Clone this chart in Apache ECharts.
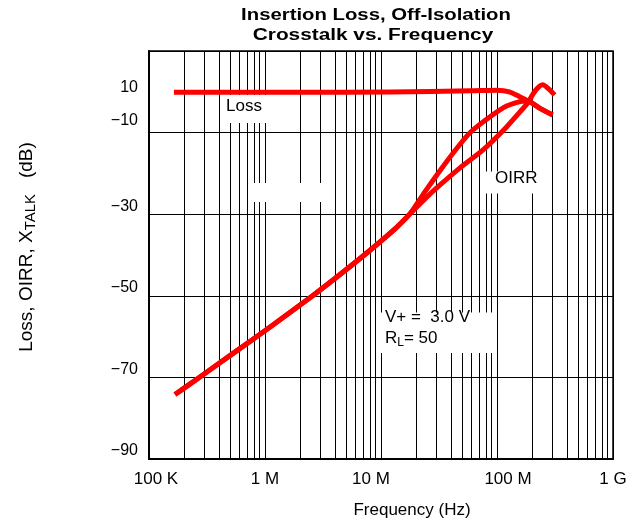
<!DOCTYPE html>
<html><head><meta charset="utf-8">
<script src="https://cdn.jsdelivr.net/npm/echarts@6/dist/echarts.min.js"></script>
<style>html,body{margin:0;padding:0;background:#fff}#c{width:643px;height:527px}</style>
</head><body><div id="c"></div>
<script>
// ---- data ----
const lossFreq = [1.64e5, 2e6, 1.2e7, 6e7, 1e8, 1.28e8, 1.57e8, 1.91e8, 2.33e8, 3.0e8];
const lossDb   = [-0.1, -0.1, -0.05, 0.25, 0.4, 0.0, -1.2, -2.4, -4.0, -5.6];
const xtalkFreq = [1.675e5, 2.75e5, 5.5e5, 1.1e6, 2.44e6, 4.43e6, 8.0e6, 1.32e7, 1.78e7, 2.38e7, 3.21e7, 4.32e7, 5.82e7, 8.65e7, 1.21e8, 1.66e8, 1.91e8, 2.33e8, 3.02e8];
const xtalkDb   = [-74.2, -69.9, -63.8, -57.7, -50.5, -44.8, -38.9, -33.6, -29.9, -24.6, -19.4, -14.5, -10.1, -6.2, -3.5, -2.3, -2.4, -4.0, -5.7];
const oirrFreq = [1.675e5, 2.75e5, 5.5e5, 1.1e6, 2.44e6, 4.43e6, 8.0e6, 1.32e7, 1.78e7, 2.38e7, 3.21e7, 4.77e7, 7.54e7, 1.21e8, 1.57e8, 1.84e8, 2.07e8, 2.29e8, 2.48e8, 2.79e8, 3.14e8];
const oirrDb   = [-74.2, -69.9, -63.8, -57.7, -50.5, -44.8, -38.9, -33.6, -29.9, -26.3, -22.9, -18.7, -14.3, -8.6, -5.0, -2.75, -0.3, 1.2, 1.7, 0.7, -0.8];

// tick labels
const xTickValues = [1e5, 1e6, 1e7, 1e8, 1e9];
const xTickLabels = ['100 K', '1 M', '10 M', '100 M', '1 G'];
const yLabelValues = [0, -10, -30, -50, -70, -90];
const yLabelTexts  = ['10', '\u221210', '\u221230', '\u221250', '\u221270', '\u221290'];
// minor log grid
const decades = [1e5, 1e6, 1e7, 1e8];
const minorMultipliers = [2, 3, 4, 5, 6, 7, 8, 9];

const FONT = '"Liberation Sans", Arial, Helvetica, sans-serif';
const RED = '#ff0000';

function zip(a, b) { return a.map((v, i) => [v, b[i]]); }

const minorLines = [];
decades.forEach(d => minorMultipliers.forEach(m => minorLines.push({ xAxis: d * m })));

const chart = echarts.init(document.getElementById('c'), null, { renderer: 'canvas' });

function curve(name, f, v) {
  return {
    name, type: 'line', data: zip(f, v), smooth: 0.2, symbol: 'none', z: 5,
    lineStyle: { color: RED, width: 5, cap: 'butt', join: 'round' }, animation: false
  };
}

const xLabelStyles = ['p0', 'p1', 'p2', 'p3', 'p4'];
const xRich = {
  p0: { fontFamily: FONT, fontSize: 17, color: '#000', padding: [0, 0, 0, 14] },
  p1: { fontFamily: FONT, fontSize: 17, color: '#000' },
  p2: { fontFamily: FONT, fontSize: 17, color: '#000', padding: [0, 20, 0, 0] },
  p3: { fontFamily: FONT, fontSize: 17, color: '#000', padding: [0, 0, 0, 22] },
  p4: { fontFamily: FONT, fontSize: 17, color: '#000' }
};

chart.setOption({
  backgroundColor: '#fff',
  animation: false,
  grid: { left: 149, right: 30, top: 51, bottom: 68, show: true, borderColor: '#000', borderWidth: 1.5, backgroundColor: 'transparent' },
  xAxis: {
    type: 'log', logBase: 10, min: 1e5, max: 1e9,
    name: 'Frequency (Hz)', nameLocation: 'middle', nameGap: 43,
    nameTextStyle: { fontFamily: FONT, fontSize: 17, color: '#000', padding: [0, 0, 0, 62] },
    axisLine: { show: true, onZero: false, lineStyle: { color: '#000', width: 2 } },
    axisTick: { show: false },
    splitLine: { show: true, lineStyle: { color: '#000', width: 1 } },
    axisLabel: {
      fontFamily: FONT, fontSize: 17, color: '#000', margin: 12,
      formatter: v => { const i = xTickValues.findIndex(t => Math.abs(Math.log10(t) - Math.log10(v)) < 1e-6); return i >= 0 ? '{' + xLabelStyles[i] + '|' + xTickLabels[i] + '}' : ''; },
      rich: xRich
    }
  },
  yAxis: [{
    type: 'value', min: -90, max: 10, interval: 20,
    name: '{a|Loss, OIRR, X}{s|TALK}{a|   (dB)}', nameLocation: 'middle', nameRotate: 90, nameGap: 111,
    nameTextStyle: {
      color: '#000', padding: [0, 0, 0, 16],
      rich: {
        a: { fontFamily: FONT, fontSize: 19, color: '#000', lineHeight: 23 },
        s: { fontFamily: FONT, fontSize: 15, color: '#000', lineHeight: 15, verticalAlign: 'bottom' }
      }
    },
    axisLine: { show: true, onZero: false, lineStyle: { color: '#000', width: 2 } },
    axisTick: { show: false },
    axisLabel: { show: false },
    splitLine: { show: true, lineStyle: { color: '#000', width: 1 } }
  }, {
    type: 'value', min: -90, max: 10, interval: 10, position: 'left',
    axisLine: { show: false, onZero: false }, axisTick: { show: false }, splitLine: { show: false },
    axisLabel: {
      margin: 11,
      formatter: v => {
        const i = yLabelValues.indexOf(v);
        if (i < 0) return '';
        const style = v === 0 ? 'h' : (v === -10 ? 'm' : 'n');
        return '{' + style + '|' + yLabelTexts[i] + '}';
      },
      rich: {
        n: { fontFamily: FONT, fontSize: 16, color: '#000', lineHeight: 16, padding: [0, 0, 16, 0] },
        m: { fontFamily: FONT, fontSize: 16, color: '#000', lineHeight: 16, padding: [0, 0, 24, 0] },
        h: { fontFamily: FONT, fontSize: 16, color: '#000', lineHeight: 16, padding: [0, 0, 8, 0] }
      }
    }
  }],
  series: [
    {
      name: 'grid', type: 'line', data: [], z: 1, silent: true,
      markLine: {
        silent: true, symbol: ['none', 'none'], animation: false,
        label: { show: false },
        lineStyle: { color: '#000', width: 1, type: 'solid' },
        data: minorLines
      }
    },
    curve('Loss', lossFreq, lossDb),
    curve('XTALK', xtalkFreq, xtalkDb),
    curve('OIRR', oirrFreq, oirrDb)
  ],
  graphic: [
    // masks behind annotation texts
    { type: 'rect', z: 100, shape: { x: 224, y: 95, width: 43, height: 28 }, style: { fill: '#fff' } },
    { type: 'rect', z: 100, shape: { x: 254, y: 183, width: 68, height: 19 }, style: { fill: '#fff' } },
    { type: 'rect', z: 100, shape: { x: 486, y: 171.5, width: 56, height: 22 }, style: { fill: '#fff' } },
    { type: 'rect', z: 100, shape: { x: 378.5, y: 312.5, width: 118, height: 40.5 }, style: { fill: '#fff' } },
    // texts
    { type: 'text', z: 101, x: 226, y: 106.5, style: { text: 'Loss', font: '17px ' + FONT, fill: '#000', textAlign: 'left', textVerticalAlign: 'middle' } },
    { type: 'text', z: 101, x: 495, y: 178.5, style: { text: 'OIRR', font: '17px ' + FONT, fill: '#000', textAlign: 'left', textVerticalAlign: 'middle' } },
    { type: 'text', z: 101, x: 385, y: 317.5, style: { text: 'V+ =  3.0 V', font: '17px ' + FONT, fill: '#000', textAlign: 'left', textVerticalAlign: 'middle' } },
    { type: 'text', z: 101, x: 385, y: 338, style: {
        text: '{a|R}{s|L}{a|= 50}', textAlign: 'left', textVerticalAlign: 'middle',
        rich: {
          a: { fontFamily: FONT, fontSize: 17, fill: '#000', lineHeight: 22 },
          s: { fontFamily: FONT, fontSize: 12, fill: '#000', lineHeight: 12, verticalAlign: 'bottom' }
        } } },
    // title
    { type: 'text', z: 101, x: 376, y: 15.5, scaleX: 1.27, style: { text: 'Insertion Loss, Off-Isolation', font: 'bold 16px ' + FONT, fill: '#000', textAlign: 'center', textVerticalAlign: 'middle' } },
    { type: 'text', z: 101, x: 373, y: 35.5, scaleX: 1.3, style: { text: 'Crosstalk vs. Frequency', font: 'bold 16px ' + FONT, fill: '#000', textAlign: 'center', textVerticalAlign: 'middle' } }
  ]
});
</script></body></html>
